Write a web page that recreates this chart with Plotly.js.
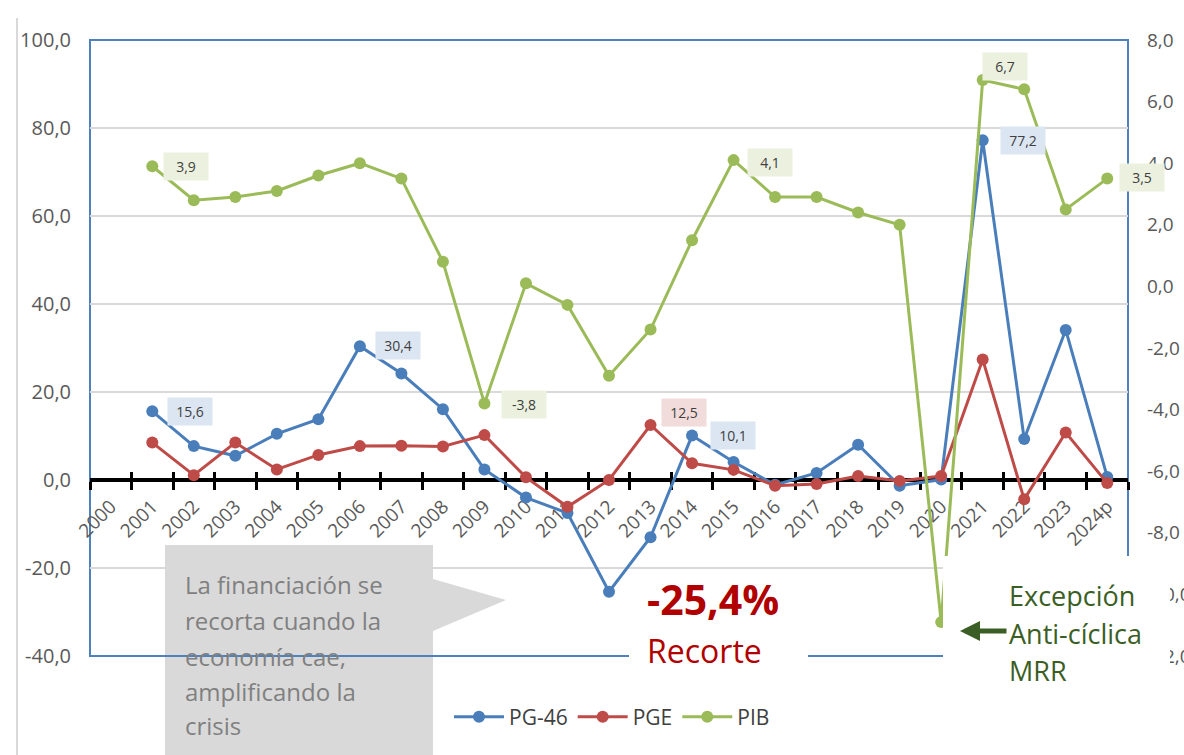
<!DOCTYPE html>
<html><head><meta charset="utf-8">
<script src="https://cdn.plot.ly/plotly-3.0.1.min.js"></script>
<style>html,body{margin:0;padding:0;background:#fff;}#chart{width:1184px;height:755px;}</style>
</head><body><div id="chart"></div>
<script>
// ---- data ----
const years = ['2000','2001','2002','2003','2004','2005','2006','2007','2008','2009','2010','2011','2012','2013','2014','2015','2016','2017','2018','2019','2020','2021','2022','2023','2024p'];
const pg46 = [null,15.6,7.7,5.5,10.5,13.8,30.4,24.2,16.1,2.4,-4.0,-7.5,-25.4,-13.0,10.1,4.1,-1.1,1.6,8.0,-1.3,0.1,77.2,9.3,34.1,0.7];
const pge  = [null,8.5,1.1,8.5,2.4,5.7,7.7,7.8,7.6,10.2,0.6,-6.1,0.0,12.5,3.8,2.3,-1.3,-0.9,0.9,-0.2,0.9,27.4,-4.4,10.8,-0.7];
const pib  = [null,3.9,2.8,2.9,3.1,3.6,4.0,3.5,0.8,-3.8,0.1,-0.6,-2.9,-1.4,1.5,4.1,2.9,2.9,2.4,2.0,-10.9,6.7,6.4,2.5,3.5];
const seriesNames = ['PG-46','PGE','PIB'];
const leftTicks = [-40,-20,0,20,40,60,80,100];
const rightTicks = [-12,-10,-8,-6,-4,-2,0,2,4,6,8];
const pg46Labeled = ['2001','2006','2014','2021'];
const pgeLabeled = ['2013'];
const pibLabeled = ['2001','2009','2015','2021','2024p'];
const calloutLines = ['La financiación se','recorta cuando la','economía cae,','amplificando la','crisis'];
const cutText = ['-25,4%','Recorte'];
const exceptionLines = ['Excepción','Anti-cíclica','MRR'];

// ---- helpers ----
const FONT = 'Open Sans, sans-serif';
const L=90, R=1128, T=40, B=656;
const px = x => (x-L)/(R-L);
const py = y => (B-y)/(B-T);
const fmt = v => v.toFixed(1).replace('.', ',');
const C_BLUE='#4a7ebb', C_RED='#be4b48', C_GREEN='#9bbb59';

const mk = (name, y, color, yaxis) => ({
  type:'scatter', mode:'lines+markers', name, x: years, y, yaxis,
  line:{color, width:3}, marker:{color, size:12}, hoverinfo:'skip'
});

const traces = [
  mk(seriesNames[0], pg46, C_BLUE, 'y'),
  mk(seriesNames[1], pge, C_RED, 'y'),
  mk(seriesNames[2], pib, C_GREEN, 'y2'),
  {type:'scatter', x:[null], y:[null], xaxis:'x2', yaxis:'y', showlegend:false, hoverinfo:'skip', mode:'markers'}
];

const zeroPos = (0 - (-40)) / 140;
const bounds = years.map((_, i) => i - 0.5).concat([years.length - 0.5]);

const annotations = [];
function dataLabel(cat, arr, yref, bg, xs, ys){
  const i = years.indexOf(cat);
  const v = arr[i];
  annotations.push({xref:'x', yref, x:i, y:v, text:fmt(v), showarrow:false,
    xshift:xs, yshift:ys, bgcolor:bg, width:42, height:25,
    font:{family:FONT, size:14, color:'#404040'}});
}
const blueOff = {'2001':[38,0],'2006':[38,1],'2014':[41,0],'2021':[40,0]};
pg46Labeled.forEach(c => dataLabel(c, pg46, 'y', '#dce6f2', blueOff[c][0], blueOff[c][1]));
pgeLabeled.forEach(c => dataLabel(c, pge, 'y', '#f2dcdb', 33, 13));
const greenOff = {'2001':[34,0],'2009':[40,-1],'2015':[36,-2],'2021':[22,14],'2024p':[35,1]};
pibLabeled.forEach(c => dataLabel(c, pib, 'y2', '#ebf1de', greenOff[c][0], greenOff[c][1]));

// callout text
const calloutY = [584, 620, 656, 691, 726];
calloutLines.forEach((t, i) => annotations.push({xref:'paper', yref:'paper', x:px(183), y:py(calloutY[i]),
  xanchor:'left', yanchor:'middle', text:t, showarrow:false, align:'left',
  font:{family:FONT, size:24, color:'#808080'}}));
// -25,4% Recorte
annotations.push({xref:'paper', yref:'paper', x:px(645), y:py(599), xanchor:'left', yanchor:'middle',
  text:'<b>'+cutText[0]+'</b>', showarrow:false, font:{family:FONT, size:41, color:'#b00000'}});
annotations.push({xref:'paper', yref:'paper', x:px(645), y:py(650), xanchor:'left', yanchor:'middle',
  text:cutText[1], showarrow:false, font:{family:FONT, size:32, color:'#b00000'}});
// Excepción
const excY = [595, 633, 670];
exceptionLines.forEach((t, i) => annotations.push({xref:'paper', yref:'paper', x:px(1007), y:py(excY[i]),
  xanchor:'left', yanchor:'middle', text:t, showarrow:false, font:{family:FONT, size:27, color:'#3b5e24'}}));
annotations.push({xref:'paper', yref:'paper', x:px(960), y:py(631), text:'', showarrow:true,
  ax:48, ay:0, arrowhead:2, arrowsize:0.8, arrowwidth:5, arrowcolor:'#3b5e24'});

const shapes = [
  {type:'path', xref:'paper', yref:'paper', layer:'below',
   path:`M ${px(165)},${py(545)} L ${px(433)},${py(545)} L ${px(433)},${py(579)} L ${px(506)},${py(600)} L ${px(433)},${py(631)} L ${px(433)},${py(755)} L ${px(165)},${py(755)} Z`,
   fillcolor:'#d9d9d9', line:{width:0}},
  {type:'rect', xref:'paper', yref:'paper', layer:'between', x0:0, x1:1, y0:0, y1:1,
   line:{color:'#4f81bd', width:2}, fillcolor:'rgba(0,0,0,0)'},
  {type:'rect', xref:'paper', yref:'paper', layer:'above', x0:px(629), x1:px(808), y0:py(665), y1:py(569),
   fillcolor:'#ffffff', line:{width:0}},
  {type:'rect', xref:'paper', yref:'paper', layer:'above', x0:px(943), x1:px(1170), y0:py(700), y1:py(556),
   fillcolor:'#ffffff', line:{width:0}},
  {type:'line', xref:'paper', yref:'paper', x0:px(17), x1:px(17), y0:py(18), y1:py(760),
   line:{color:'#d9d9d9', width:2}}
];

const tickFont = {family:FONT, size:19, color:'#595959'};
const layout = {
  width:1184, height:755, margin:{l:90, r:56, t:40, b:99},
  paper_bgcolor:'#ffffff', plot_bgcolor:'rgba(0,0,0,0)',
  showlegend:true,
  xaxis:{type:'category', categoryorder:'array', categoryarray:years, range:[-0.5, 24.5],
    anchor:'free', position:zeroPos, showline:true, linecolor:'#000', linewidth:4,
    ticks:'outside', tickson:'boundaries', ticklen:8, tickwidth:3, tickcolor:'#000',
    tickangle:-45, tickfont:tickFont, ticklabelstandoff:6, showgrid:false, zeroline:false, layer:'below traces', fixedrange:true},
  xaxis2:{overlaying:'x', anchor:'free', position:zeroPos, type:'linear', range:[-0.5, 24.5],
    tickmode:'array', tickvals:bounds, ticks:'inside', ticklen:8, tickwidth:3, tickcolor:'#000',
    showticklabels:false, showline:false, showgrid:false, zeroline:false, layer:'below traces', fixedrange:true},
  yaxis:{range:[-40,100], tickmode:'array', tickvals:leftTicks, ticktext:leftTicks.map(fmt),
    showline:false, showgrid:true, gridcolor:'#d9d9d9', gridwidth:1.5, zeroline:false,
    ticks:'', tickfont:{family:FONT, size:20, color:'#595959'}, ticklabelstandoff:18, fixedrange:true},
  yaxis2:{overlaying:'y', side:'right', anchor:'x', range:[-12,8], tickmode:'array', tickvals:rightTicks,
    ticktext:rightTicks.map(fmt), showline:false, showgrid:false, zeroline:false, ticks:'',
    tickfont:{family:FONT, size:19, color:'#595959'}, ticklabelstandoff:18, fixedrange:true},
  legend:{orientation:'h', x:px(612), xanchor:'center', y:py(717), yanchor:'middle',
    font:{family:FONT, size:21, color:'#404040'}, bgcolor:'rgba(0,0,0,0)', itemwidth:50},
  annotations, shapes
};
Plotly.newPlot('chart', traces, layout, {displayModeBar:false, staticPlot:true});
</script></body></html>
